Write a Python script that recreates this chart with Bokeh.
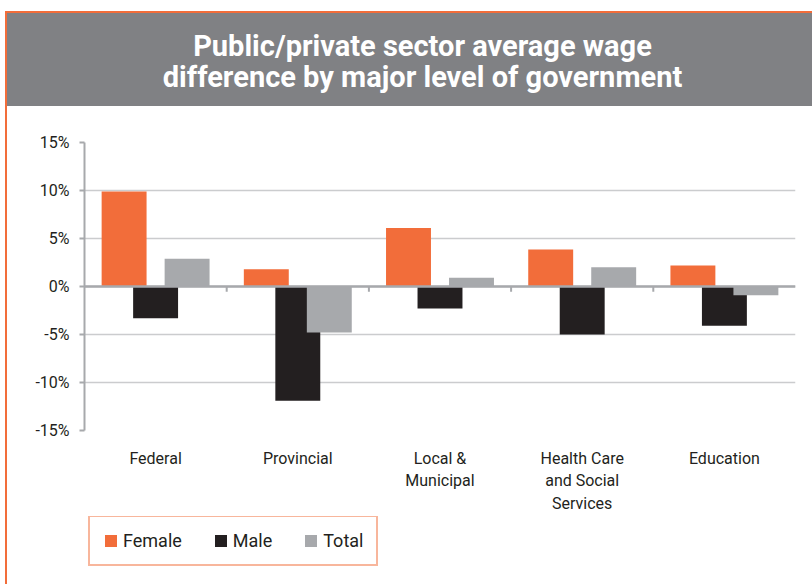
from bokeh.plotting import figure
from bokeh.models import (ColumnDataSource, FactorRange, Range1d, Span, Legend, LegendItem,
                          PrintfTickFormatter, FixedTicker)
from bokeh.transform import dodge
from bokeh.layouts import column
from bokeh.core.properties import value
from bokeh.embed import file_html
from bokeh.resources import INLINE

# ---- data ----
categories = ["Federal", "Provincial", "Local &\nMunicipal", "Health Care\nand Social\nServices", "Education"]
female = [9.9, 1.8, 6.1, 3.85, 2.2]
male = [-3.3, -11.9, -2.3, -5.0, -4.1]
total = [2.9, -4.8, 0.9, 2.0, -0.9]
series_names = ["Female", "Male", "Total"]
y_ticks = [-15, -10, -5, 0, 5, 10, 15]
title_lines = ["Public/private sector average wage", "difference by major level of government"]

ORANGE = "#F26D3A"
BLACK = "#231F20"
GREY = "#A7A9AC"
BAND = "#808184"
GRID = "#CBCCCE"
FONT = "Roboto"
colors = [ORANGE, BLACK, GREY]


def bare(fig):
    fig.axis.visible = False
    fig.grid.visible = False
    fig.outline_line_color = None


# ---- title band ----
tf = figure(width=805, height=93, x_range=Range1d(0, 1), y_range=Range1d(93, 0),
            output_backend="svg", toolbar_location=None, min_border=0)
bare(tf)
tf.background_fill_color = None
tf.border_fill_color = None
tf.styles = {"background-color": BAND}
tsrc = ColumnDataSource(dict(x=[0.4754, 0.4754], y=[32, 63], t=title_lines))
tf.text(x="x", y="y", text="t", source=tsrc, text_align="center", text_baseline="middle",
        text_color="white", text_font=value(FONT), text_font_style="bold",
        text_font_size="29px")

# ---- main chart ----
src = ColumnDataSource(dict(cat=categories, female=female, male=male, total=total))
p = figure(width=805, height=410, x_range=FactorRange(*categories), y_range=Range1d(-15, 15),
           output_backend="svg", toolbar_location=None,
           min_border_left=77, min_border_right=17, min_border_top=36, min_border_bottom=86)
p.outline_line_color = None
p.background_fill_color = "white"
p.border_fill_color = "white"

W = 0.316
OFF = 0.2215
for col, off, c in zip(["female", "male", "total"], [-OFF, 0.0, OFF], colors):
    p.vbar(x=dodge("cat", off, range=p.x_range), top=col, bottom=0, width=W, source=src,
           fill_color=c, line_color=None)

p.add_layout(Span(location=0, dimension="width", line_color=GREY, line_width=2.5))

# boundary ticks on the zero line
bsrc = ColumnDataSource(dict(cat=categories[1:], y0=[0] * 4, y1=[-0.55] * 4))
p.segment(x0=dodge("cat", -0.5, range=p.x_range), x1=dodge("cat", -0.5, range=p.x_range),
          y0="y0", y1="y1", source=bsrc, line_color=GREY, line_width=2)

# y axis
p.yaxis.ticker = FixedTicker(ticks=y_ticks)
p.yaxis.formatter = PrintfTickFormatter(format="%d%%")
p.yaxis.axis_line_color = GREY
p.yaxis.axis_line_width = 2
p.yaxis.major_tick_out = 5
p.yaxis.major_tick_in = 0
p.yaxis.major_tick_line_color = GREY
p.yaxis.major_tick_line_width = 2
p.yaxis.minor_tick_line_color = None
p.yaxis.major_label_text_font = FONT
p.yaxis.major_label_text_font_size = "16px"
p.yaxis.major_label_text_color = BLACK
p.yaxis.major_label_standoff = 10

p.ygrid.ticker = FixedTicker(ticks=y_ticks)
p.ygrid.grid_line_color = GRID
p.ygrid.grid_line_width = 1.5
p.xgrid.grid_line_color = None

# x axis
p.xaxis.axis_line_color = None
p.xaxis.major_tick_line_color = None
p.xaxis.minor_tick_line_color = None
p.xaxis.major_label_text_font = FONT
p.xaxis.major_label_text_font_size = "16px"
p.xaxis.major_label_text_color = BLACK
p.xaxis.major_label_standoff = 12

# ---- legend strip ----
lf = figure(width=805, height=68, x_range=Range1d(0, 1), y_range=Range1d(0, 1),
            output_backend="svg", toolbar_location=None, min_border=0)
bare(lf)
items = []
for name, c in zip(series_names, colors):
    proxy = ColumnDataSource(dict(x=[0.0], top=[0.0]))
    r = lf.vbar(x="x", top="top", bottom=0, width=0.01, source=proxy, fill_color=c, line_color=None)
    items.append(LegendItem(label=name, renderers=[r]))
legend = Legend(items=items, orientation="horizontal", location=(4, 18),
                label_text_font=FONT, label_text_font_size="18px", label_text_color=BLACK,
                glyph_width=15, glyph_height=15, label_standoff=5, spacing=31, padding=13,
                margin=0, border_line_color=ORANGE, border_line_width=2,
                background_fill_color="white", background_fill_alpha=1)
lf.add_layout(legend, "center")

layout = column(tf, p, lf, spacing=0,
                styles={"margin-left": "5px", "margin-top": "11px",
                        "border-left": "2px solid " + ORANGE, "border-top": "2px solid " + ORANGE})

open("out.html", "w").write(file_html(layout, INLINE))
